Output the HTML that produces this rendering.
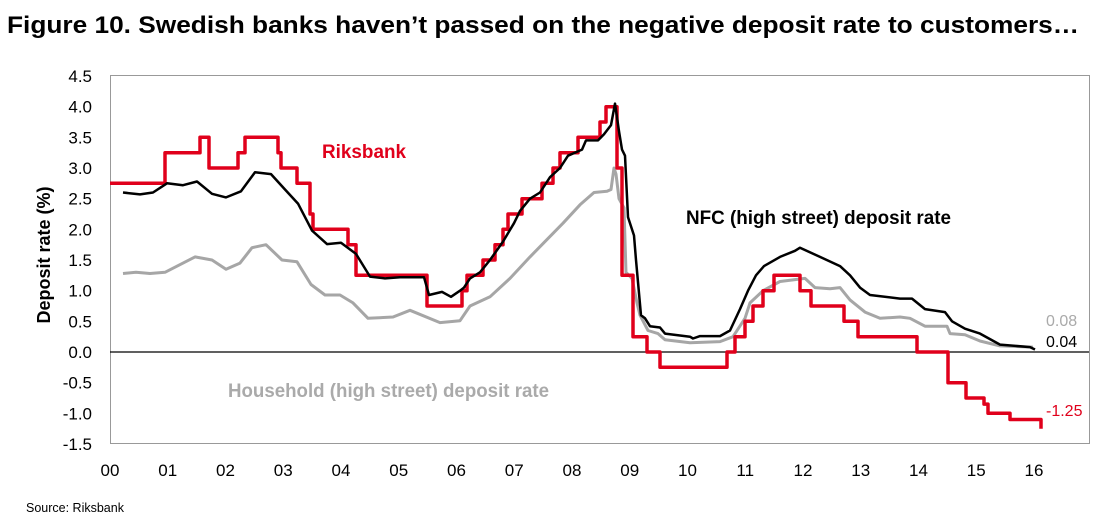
<!DOCTYPE html><html><head><meta charset="utf-8"><style>body{margin:0;background:#fff;font-family:"Liberation Sans",sans-serif}svg{display:block}</style></head><body>
<svg id="s" width="1109" height="526" xmlns="http://www.w3.org/2000/svg" font-family="Liberation Sans, sans-serif">
<text x="7" y="33" font-size="24" font-weight="bold" fill="#000" textLength="1072" lengthAdjust="spacingAndGlyphs">Figure 10. Swedish banks haven’t passed on the negative deposit rate to customers…</text>
<rect x="110.5" y="75.5" width="979" height="368" fill="none" stroke="#999" stroke-width="1"/>
<line x1="110" y1="352" x2="1089" y2="352" stroke="#000" stroke-width="1.2"/>
<g id="yl" font-size="17" text-anchor="end" fill="#000"></g>
<g id="xl" font-size="17" text-anchor="middle" fill="#000"></g>
<text transform="translate(50,255) rotate(-90)" font-size="18" font-weight="bold" text-anchor="middle">Deposit rate (%)</text>
<g id="lines"></g>
<text x="322" y="158" font-size="19" font-weight="bold" fill="#e0001b" textLength="84" lengthAdjust="spacingAndGlyphs">Riksbank</text>
<text x="686" y="224" font-size="19" font-weight="bold" fill="#000" textLength="265" lengthAdjust="spacingAndGlyphs">NFC (high street) deposit rate</text>
<text x="228" y="397" font-size="19" font-weight="bold" fill="#aaa" textLength="321" lengthAdjust="spacingAndGlyphs">Household (high street) deposit rate</text>
<text x="1046" y="326" font-size="16" fill="#aaa">0.08</text>
<text x="1046" y="347" font-size="16" fill="#000">0.04</text>
<text x="1046" y="416" font-size="16" fill="#e0001b">-1.25</text>
<text x="26" y="512" font-size="12.5" fill="#000">Source: Riksbank</text>
</svg>
<script>
var Y=function(v){return 352-v*61.33};
var ns="http://www.w3.org/2000/svg";
var yl=document.getElementById('yl');
for(var i=0;i<=12;i++){var v=4.5-i*0.5;var t=document.createElementNS(ns,'text');t.setAttribute('x',92);t.setAttribute('y',Y(v)+6);t.textContent=v.toFixed(1);yl.appendChild(t);}
var xl=document.getElementById('xl');
for(var i=0;i<=16;i++){var t=document.createElementNS(ns,'text');t.setAttribute('x',110+57.75*i);t.setAttribute('y',476);t.textContent=(i<10?'0':'')+i;xl.appendChild(t);}
function poly(pts,col,w){var s=pts.map(function(p){return p[0]+','+Y(p[1]).toFixed(1)}).join(' ');var p=document.createElementNS(ns,'polyline');p.setAttribute('points',s);p.setAttribute('fill','none');p.setAttribute('stroke',col);p.setAttribute('stroke-width',w);p.setAttribute('stroke-linejoin','round');document.getElementById('lines').appendChild(p);}
function steps(a){var r=[[a[0][0],a[0][1]]];for(var i=1;i<a.length;i++){r.push([a[i][0],a[i-1][1]]);r.push([a[i][0],a[i][1]]);}return r;}
var red=steps([[110,2.75],[165,3.25],[200,3.5],[209,3.0],[238,3.25],[245,3.5],[278,3.25],[281,3.0],[297,2.75],[310,2.25],[313,2.0],[348,1.75],[356,1.25],[427,0.75],[462,1.0],[467,1.25],[483,1.5],[495,1.75],[503,2.0],[508,2.25],[522,2.5],[542,2.75],[553,3.0],[560,3.25],[578,3.5],[600,3.75],[606,4.0],[617,3.0],[622,1.25],[633,0.25],[647,0.0],[648,0.0],[660,-0.25],[727,0.0],[735,0.25],[745,0.5],[753,0.75],[763,1.0],[774,1.25],[800,1.0],[811,0.75],[844,0.5],[858,0.25],[917,0.0],[948,-0.5],[966,-0.75],[984,-0.85],[988,-1.0],[1010,-1.1],[1041,-1.25],[1041,-1.25]]);
red.pop();
poly([[123,1.28],[136,1.3],[150,1.28],[165,1.3],[195,1.55],[212,1.5],[226,1.35],[240,1.45],[252,1.7],[266,1.75],[282,1.5],[297,1.47],[311,1.1],[325,0.93],[340,0.93],[353,0.8],[368,0.55],[393,0.57],[410,0.68],[440,0.48],[460,0.51],[470,0.75],[490,0.9],[510,1.2],[530,1.55],[545,1.8],[563,2.1],[580,2.4],[594,2.6],[607,2.62],[611,2.65],[614,3.0],[616,2.9],[619,2.5],[624,2.35],[626,1.3],[632,1.2],[637,0.8],[640,0.6],[648,0.35],[658,0.3],[665,0.2],[690,0.15],[720,0.17],[733,0.25],[745,0.55],[750,0.8],[763,1.0],[780,1.15],[795,1.18],[805,1.2],[815,1.05],[830,1.03],[840,1.05],[850,0.85],[865,0.65],[880,0.55],[900,0.57],[910,0.55],[925,0.42],[947,0.42],[950,0.3],[965,0.28],[980,0.18],[1000,0.1],[1033,0.08]],'#a6a6a6',3);
poly(red,'#e0001b',3.5);
poly([[123,2.6],[140,2.57],[153,2.6],[167,2.75],[183,2.72],[197,2.78],[212,2.58],[226,2.52],[241,2.62],[255,2.93],[271,2.9],[285,2.65],[298,2.42],[312,1.98],[327,1.76],[341,1.78],[356,1.6],[370,1.23],[385,1.2],[400,1.22],[424,1.22],[429,0.93],[442,0.98],[451,0.9],[460,1.0],[464,1.05],[470,1.2],[480,1.3],[490,1.5],[503,1.8],[514,2.1],[520,2.3],[530,2.5],[540,2.6],[550,2.85],[560,3.0],[568,3.2],[582,3.3],[586,3.45],[598,3.45],[604,3.55],[611,3.7],[615,4.05],[619,3.6],[622,3.3],[625,3.2],[628,2.2],[634,1.9],[636,1.5],[641,0.6],[645,0.55],[650,0.42],[660,0.4],[665,0.3],[690,0.25],[693,0.22],[700,0.26],[720,0.26],[730,0.35],[740,0.7],[748,1.0],[756,1.25],[764,1.4],[780,1.55],[795,1.65],[800,1.7],[820,1.55],[840,1.4],[850,1.25],[860,1.05],[870,0.93],[900,0.87],[912,0.87],[925,0.7],[945,0.65],[952,0.5],[965,0.38],[980,0.3],[1000,0.12],[1030,0.08],[1035,0.04]],'#000',2.5);
</script>
</body></html>
